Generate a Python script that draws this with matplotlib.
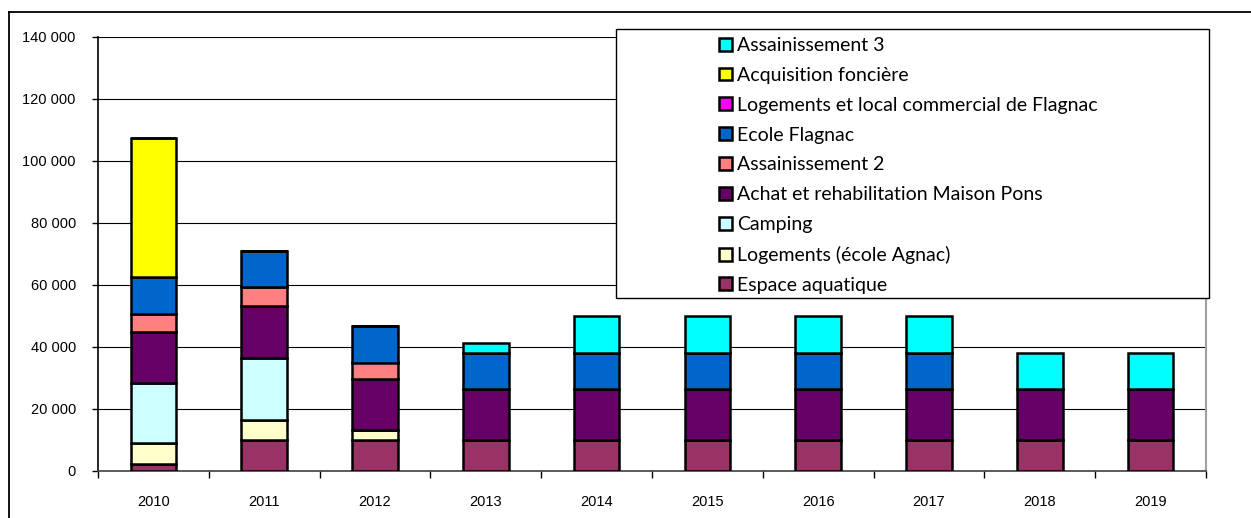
import matplotlib.pyplot as plt
from matplotlib.patches import Rectangle
from matplotlib.lines import Line2D
import numpy as np

years = ["2010", "2011", "2012", "2013", "2014", "2015", "2016", "2017", "2018", "2019"]

# stacked from bottom to top
espace_aquatique = [2300, 10000, 10000, 10000, 10000, 10000, 10000, 10000, 10000, 10000]
logements_ecole = [6700, 6400, 3100, 0, 0, 0, 0, 0, 0, 0]
camping = [19500, 20100, 0, 0, 0, 0, 0, 0, 0, 0]
maison_pons = [16400, 16600, 16600, 16300, 16300, 16300, 16300, 16300, 16300, 16300]
assainissement2 = [5900, 6100, 5300, 0, 0, 0, 0, 0, 0, 0]
ecole_flagnac = [11800, 11800, 11800, 11800, 11800, 11800, 11800, 11800, 0, 0]
logements_flagnac = [0, 0, 0, 0, 0, 0, 0, 0, 0, 0]
acquisition = [44800, 0, 0, 0, 0, 0, 0, 0, 0, 0]
assainissement3 = [0, 0, 0, 3100, 12000, 12000, 12000, 12000, 11800, 11800]

series = [
    ("Espace aquatique", espace_aquatique, "#993366"),
    ("Logements (école Agnac)", logements_ecole, "#FFFFCC"),
    ("Camping", camping, "#CCFFFF"),
    ("Achat et rehabilitation Maison Pons", maison_pons, "#660066"),
    ("Assainissement 2", assainissement2, "#FF8080"),
    ("Ecole Flagnac", ecole_flagnac, "#0066CC"),
    ("Logements et local commercial de Flagnac", logements_flagnac, "#FF00FF"),
    ("Acquisition foncière", acquisition, "#FFFF00"),
    ("Assainissement 3", assainissement3, "#00FFFF"),
]

W, H = 1251, 518
fig = plt.figure(figsize=(W / 100, H / 100), dpi=100)
ax = fig.add_axes([98 / W, 1 - 471 / H, (1206 - 98) / W, (471 - 37) / H])

x = np.arange(len(years))
bottom = np.zeros(len(years))
handles = []
for name, vals, color in series:
    b = ax.bar(x, vals, 0.41, bottom=bottom, color=color, edgecolor="black",
               linewidth=1.8, label=name, zorder=3)
    handles.append(b)
    bottom += np.array(vals)

ax.set_xlim(-0.5, len(years) - 0.5)
ax.set_ylim(0, 140000)
ax.set_yticks(range(0, 140001, 20000))
ax.set_yticklabels([f"{v:,}".replace(",", " ") for v in range(0, 140001, 20000)],
                   family="Liberation Sans", fontsize=10.5)
ax.set_xticks(x)
ax.set_xticklabels(years, family="Liberation Sans", fontsize=10.5)
ax.set_xticks(np.arange(-0.5, len(years)), minor=True)
ax.tick_params(axis="x", which="major", length=0, pad=17)
ax.tick_params(axis="x", which="minor", length=5, width=1, direction="out")
ax.tick_params(axis="y", length=4, width=1, direction="out", pad=12)
ax.yaxis.grid(True, color="black", linewidth=0.8, zorder=0)
ax.set_axisbelow(True)

ax.spines["top"].set_visible(False)
ax.spines["left"].set_color("black")
ax.spines["left"].set_linewidth(1.2)
ax.spines["bottom"].set_color("#404040")
ax.spines["bottom"].set_linewidth(1.2)
ax.spines["right"].set_color("#a0a0a0")
ax.spines["right"].set_linewidth(1.5)

# outer chart frame (runs off the picture on the right and bottom)
fig.add_artist(Line2D([9 / W, 1.0], [1 - 12 / H, 1 - 12 / H], color="black",
                      linewidth=1.3, transform=fig.transFigure))
fig.add_artist(Line2D([9 / W, 9 / W], [0, 1 - 12 / H], color="black",
                      linewidth=1.3, transform=fig.transFigure))

# legend box
box = Rectangle((616 / W, 1 - 298 / H), (1209 - 616) / W, (298 - 29) / H,
                transform=fig.transFigure, facecolor="white", edgecolor="black",
                linewidth=1, zorder=5)
fig.add_artist(box)

leg = fig.legend(handles[::-1], [s[0] for s in series][::-1], loc="upper left",
                 bbox_to_anchor=(719 / W, 1 - 37 / H), frameon=False,
                 borderpad=0, borderaxespad=0, handlelength=0.65, handleheight=0.65,
                 handletextpad=0.3, labelspacing=0.66,
                 prop={"family": "Lato", "size": 14})
leg.set_zorder(6)

fig.savefig("out.png", dpi=100)
